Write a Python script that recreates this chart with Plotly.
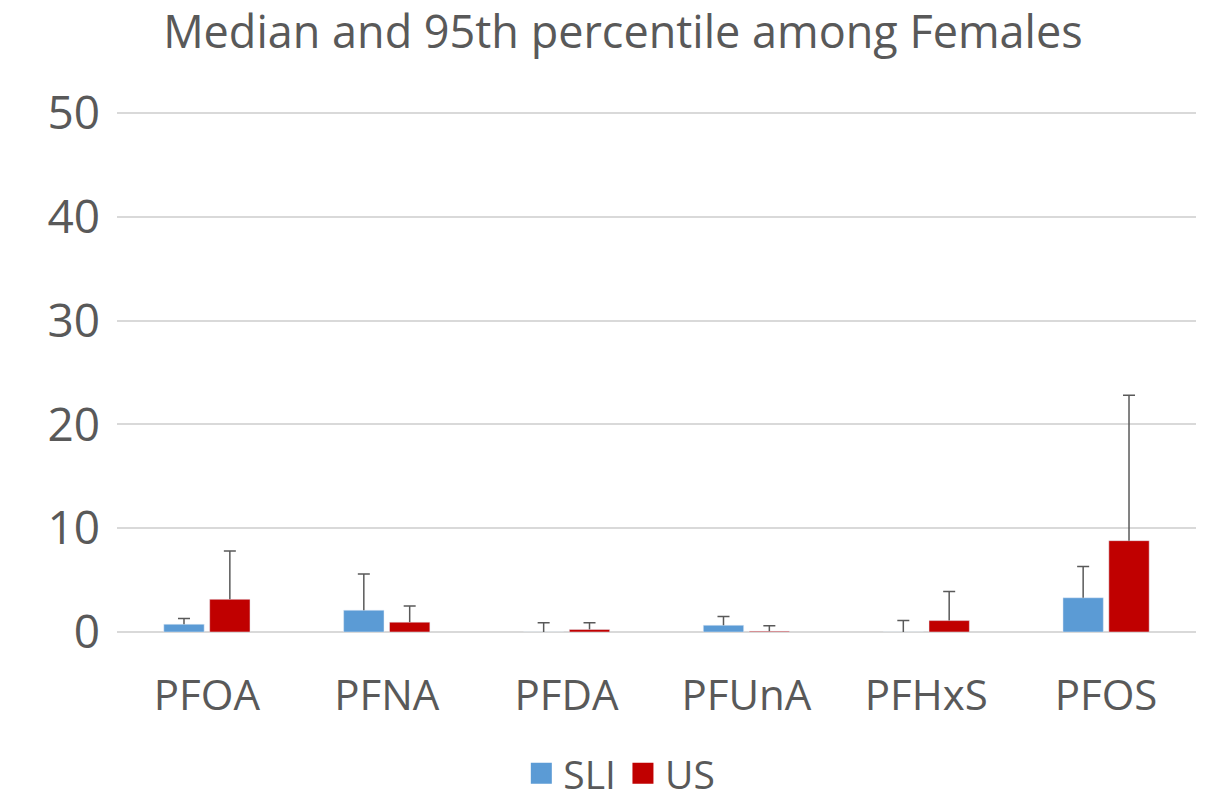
import plotly.graph_objects as go

categories = ["PFOA", "PFNA", "PFDA", "PFUnA", "PFHxS", "PFOS"]
sli_median = [0.75, 2.1, 0.0, 0.65, 0.0, 3.3]
sli_p95 = [1.3, 5.6, 0.9, 1.5, 1.1, 6.3]
us_median = [3.15, 0.95, 0.25, 0.08, 1.1, 8.8]
us_p95 = [7.8, 2.5, 0.9, 0.6, 3.9, 22.8]

sli_err = [p - m for p, m in zip(sli_p95, sli_median)]
us_err = [p - m for p, m in zip(us_p95, us_median)]

font_fam = "Open Sans, Liberation Sans, sans-serif"
txt = "#595959"
sli_col = "#5b9bd5"
us_col = "#c00000"
err_col = "#595959"

fig = go.Figure()
series = [("SLI", sli_median, sli_p95, sli_err, sli_col, "sli"),
          ("US", us_median, us_p95, us_err, us_col, "us")]
for nm, med, p95, err, col, grp in series:
    # median bar with stem up to 95th percentile (no caps)
    fig.add_trace(go.Bar(name=nm, x=categories, y=med, marker_color=col,
                         offsetgroup=grp, showlegend=False,
                         error_y=dict(type="data", symmetric=False, array=err,
                                      arrayminus=[0] * len(err), color=err_col,
                                      thickness=1.5, width=0)))
    # cap at the 95th percentile
    fig.add_trace(go.Bar(x=categories, y=[0] * len(p95), base=p95,
                         marker=dict(color="rgba(0,0,0,0)", line=dict(width=0)),
                         offsetgroup=grp, showlegend=False, hoverinfo="skip",
                         error_y=dict(type="data", array=[0] * len(p95), color=err_col,
                                      thickness=1.5, width=6)))

# legend entries
for nm, col in [("SLI", sli_col), ("US", us_col)]:
    fig.add_trace(go.Scatter(x=[categories[0]], y=[None], mode="markers", name=nm,
                             marker=dict(symbol="square", size=16, color=col,
                                         line=dict(color=col, width=5))))

fig.update_layout(
    width=1201, height=792,
    paper_bgcolor="white", plot_bgcolor="white",
    margin=dict(l=109, r=13, t=104, b=168, autoexpand=False),
    barmode="group", bargap=0.49, bargroupgap=0.12,
    title=dict(text="Median and 95th percentile among Females", x=0.512, xanchor="center",
               xref="container", y=0.969, yanchor="middle",
               font=dict(family=font_fam, size=45, color=txt)),
    font=dict(family=font_fam, color=txt),
    showlegend=True,
    legend=dict(orientation="h", x=0.466, xanchor="center", y=-0.272, yanchor="middle",
                font=dict(size=39, color=txt), itemsizing="trace", itemwidth=34,
                tracegroupgap=0),
    yaxis=dict(range=[0, 50.1], tickvals=[0, 10, 20, 30, 40, 50], showgrid=True,
               gridcolor="#d9d9d9", gridwidth=1.5,
               zeroline=True, zerolinecolor="#d9d9d9", zerolinewidth=2,
               tickfont=dict(size=46, color=txt), ticks="", ticklabelstandoff=16),
    xaxis=dict(tickfont=dict(size=42, color=txt), showline=False, ticks="",
               ticklabelstandoff=35),
)

fig.write_html("out.html")
